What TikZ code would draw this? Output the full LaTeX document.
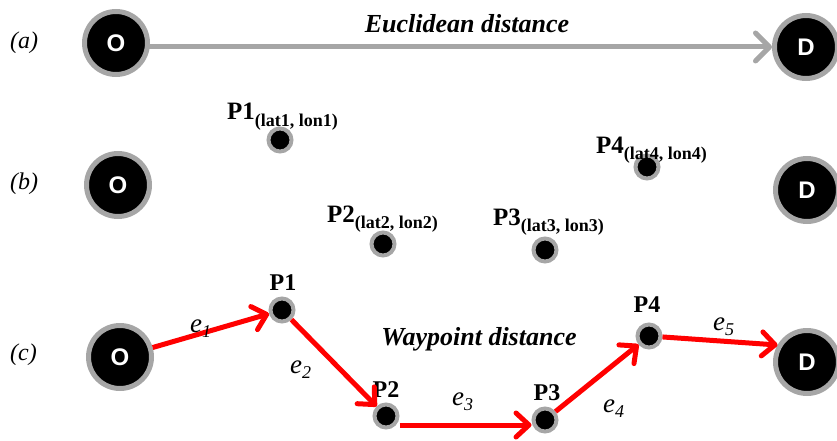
\documentclass[tikz,border=0pt]{standalone}
\usepackage{fontspec}
\setmainfont{Liberation Serif}
\newfontfamily\sansbold{Liberation Sans}[BoldFont={Liberation Sans Bold}]
\usetikzlibrary{arrows.meta}
\definecolor{ringgray}{HTML}{A6A6A6}
\definecolor{arrred}{HTML}{FF0000}
\newcommand{\fsz}[1]{\fontsize{#1}{#1}\selectfont}
\newcommand{\plab}[2]{{\fsz{25}\bfseries P#1}\raisebox{-6pt}{\fsz{18}\bfseries (lat#2, lon#2)}}
\newcommand{\elab}[1]{{\fsz{27}\itshape e}\raisebox{-5pt}{\fsz{18}\itshape #1}}
\begin{document}
\begin{tikzpicture}[x=1pt,y=-1pt,
  big/.style={circle, fill=black, draw=ringgray, line width=5pt, minimum size=63pt, inner sep=0pt, text=white, font=\sansbold\bfseries\fsz{24}},
  small/.style={circle, fill=black, draw=ringgray, line width=4pt, minimum size=23pt, inner sep=0pt},
  rowlab/.style={anchor=base west, inner sep=0pt, font=\itshape\fsz{24}},
  ttl/.style={anchor=base, inner sep=0pt, font=\bfseries\itshape\fsz{26}},
  ptxt/.style={anchor=base west, inner sep=0pt},
  pc/.style={anchor=base, inner sep=0pt, font=\bfseries\fsz{24}},
  elabel/.style={anchor=base west, inner sep=0pt},
  euarrow/.style={draw=ringgray, line width=5pt, line cap=round, -{Straight Barb[length=14pt,width=28pt,round]}},
  redarrow/.style={draw=arrred, line width=5pt, -{Straight Barb[length=13pt,width=24pt,round]}}
]
\useasboundingbox (0,0) rectangle (837,441);

% row (a)
\node[rowlab] (la) at (10,49) {(a)};
\node[big] (Oa) at (116,43) {O};
\node[big] (Da) at (806,47) {D};
\draw[euarrow] ([yshift=-4pt]Oa.east) -- (Da.west);
\node[ttl] (eu) at (467,33) {Euclidean distance};

% row (b)
\node[rowlab] (lb) at (10,189) {(b)};
\node[big] (Ob) at (118,185) {O};
\node[big] (Db) at (807,190) {D};
\node[small] (P1b) at (280,140) {};
\node[small] (P2b) at (383,244) {};
\node[small] (P3b) at (545,250) {};
\node[small] (P4b) at (647,167) {};
\node[ptxt] (t1b) at (227,120) {\plab{1}{1}};
\node[ptxt] (t2b) at (327,222) {\plab{2}{2}};
\node[ptxt] (t3b) at (493,225) {\plab{3}{3}};
\node[ptxt] (t4b) at (596,153) {\plab{4}{4}};

% row (c)
\node[rowlab] (lc) at (10,360) {(c)};
\node[big] (Oc) at (120,357) {O};
\node[big] (Dc) at (807,362) {D};
\node[small] (P1c) at (282,310) {};
\node[small] (P2c) at (386,416) {};
\node[small] (P3c) at (545,420) {};
\node[small] (P4c) at (649,336) {};
\node[pc] (t1c) at (283,290) {P1};
\node[pc] (t2c) at (386,397) {P2};
\node[pc] (t3c) at (547,400) {P3};
\node[pc] (t4c) at (647,312) {P4};
\node[ttl] (wp) at (479,345) {Waypoint distance};

\draw[redarrow] (Oc) -- (P1c);
\draw[redarrow] (P1c) -- (P2c);
\draw[redarrow] ([yshift=-9pt]P2c.east) -- ([yshift=-5pt]P3c.west);
\draw[redarrow] (P3c) -- (P4c);
\draw[redarrow] (P4c) -- (Dc.150);

\node[elabel] (e1) at (190,332) {\elab{1}};
\node[elabel] (e2) at (290,373) {\elab{2}};
\node[elabel] (e3) at (452,405) {\elab{3}};
\node[elabel] (e4) at (603,412) {\elab{4}};
\node[elabel] (e5) at (713,330) {\elab{5}};
\end{tikzpicture}
\end{document}
